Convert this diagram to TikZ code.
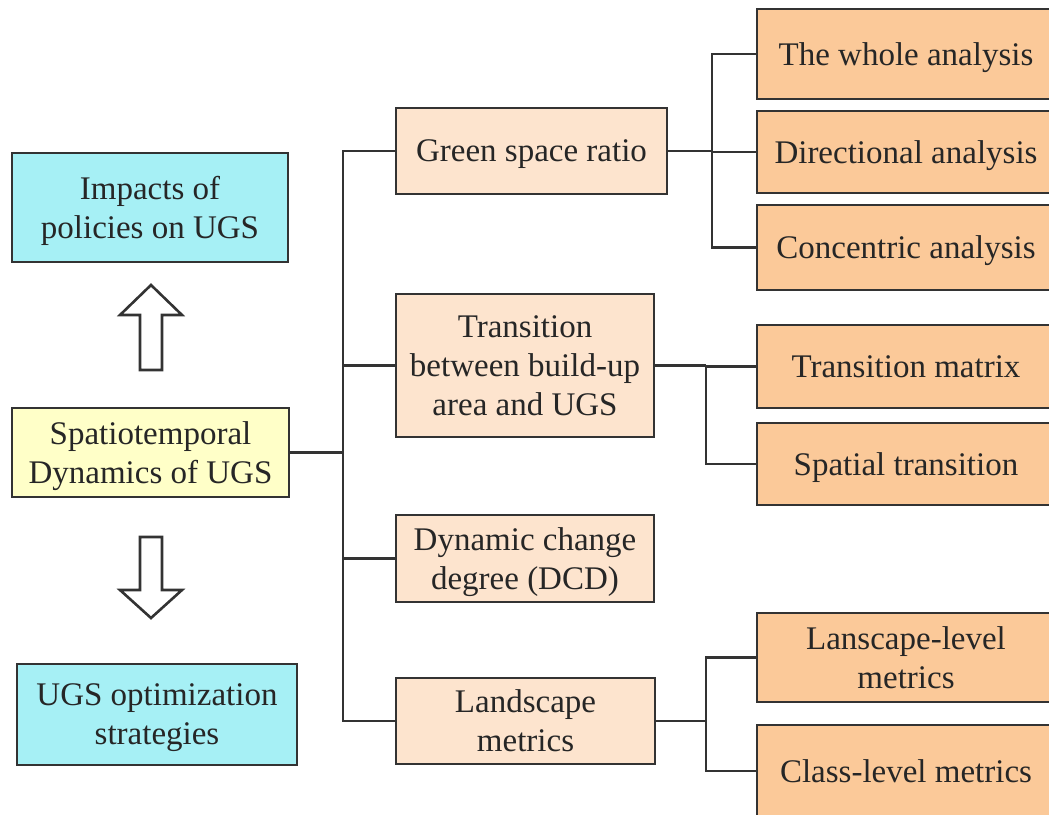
\documentclass[tikz,border=0pt]{standalone}
\usepackage{fontspec}
\setmainfont{Liberation Serif}
\usetikzlibrary{positioning}

\definecolor{aqua}{RGB}{166,240,245}
\definecolor{cream}{RGB}{255,255,200}
\definecolor{peach}{RGB}{253,228,206}
\definecolor{apricot}{RGB}{251,201,153}
\definecolor{ink}{RGB}{51,51,51}

\begin{document}
\begin{tikzpicture}[
        x=0.5pt, y=-0.5pt,
        font=\fontsize{16.5pt}{19.5pt}\selectfont,
        box/.style={
            draw=ink, line width=1.4pt, align=center,
            inner sep=0pt, text depth=-3pt, text=black!85
        },
        goal/.style={box, fill=aqua},
        core/.style={box, fill=cream},
        method/.style={box, fill=peach},
        detail/.style={box, fill=apricot,
            minimum width=149pt},
        link/.style={draw=ink, line width=1.3pt},
        hollow/.style={draw=ink, line width=1.3pt, fill=white}
        ]

        \useasboundingbox (0,0) rectangle (1049,814);

        % --- Left column ---
        \node[goal, minimum width=138pt, minimum height=54.5pt] (impacts) at (150,207.5)
        {Impacts of\\policies on UGS};

        \node[core, minimum width=138.5pt, minimum height=44.5pt] (spatio) at (150.5,452.5)
        {Spatiotemporal\\Dynamics of UGS};

        \node[goal, minimum width=140pt, minimum height=50.5pt] (optim) at (157,714.5)
        {UGS optimization\\strategies};

        % --- Hollow arrows ---
        \draw[hollow] (140,370) -- (140,315) -- (120,315) -- (151,285)
            -- (182,315) -- (162,315) -- (162,370) -- cycle;
        \draw[hollow] (140,537) -- (140,590) -- (120,590) -- (151,618)
            -- (182,590) -- (162,590) -- (162,537) -- cycle;

        % --- Middle column ---
        \node[method, minimum width=135.5pt, minimum height=43pt] (ratio) at (531.5,151)
        {Green space ratio};

        \node[method, minimum width=129pt, minimum height=71.5pt] (transit) at (525,365.5)
        {Transition\\between build-up\\area and UGS};

        \node[method, minimum width=129pt, minimum height=43.5pt] (dcd) at (525,558.5)
        {Dynamic change\\degree (DCD)};

        \node[method, minimum width=129.5pt, minimum height=43pt] (landsc) at (525.5,721)
        {Landscape\\metrics};

        % --- Right column ---
        \node[detail, minimum height=45pt] (whole) at (906,54)
        {The whole analysis};
        \node[detail, minimum height=41pt] (direc) at (906,152)
        {Directional analysis};
        \node[detail, minimum height=42.5pt] (concen) at (906,247.5)
        {Concentric analysis};

        \node[detail, minimum height=41.5pt] (matrix) at (906,366.5)
        {Transition matrix};
        \node[detail, minimum height=41pt] (spatial) at (906,464)
        {Spatial transition};

        \node[detail, minimum height=44.5pt] (lvland) at (906,657.5)
        {Lanscape-level\\metrics};
        \node[detail, minimum height=46pt] (lvclass) at (906,771)
        {Class-level metrics};

        % --- Junctions ---
        \coordinate (hub) at (343,452.5);
        \coordinate (hubratio) at (712,151);
        \coordinate (hubtrans) at (706,365.5);
        \coordinate (hubland) at (706,721);

        % --- Connectors ---
        \draw[link] (spatio.east) -- (hub);
        \foreach \n in {ratio,transit,dcd,landsc}
            \draw[link] (hub) |- (\n.west);

        \draw[link] (ratio.east) -- (hubratio);
        \foreach \n in {whole,direc,concen}
            \draw[link] (hubratio) |- (\n.west);

        \draw[link] (transit.east) -- (hubtrans);
        \foreach \n in {matrix,spatial}
            \draw[link] (hubtrans) |- (\n.west);

        \draw[link] (landsc.east) -- (hubland);
        \foreach \n in {lvland,lvclass}
            \draw[link] (hubland) |- (\n.west);

    \end{tikzpicture}
\end{document}
